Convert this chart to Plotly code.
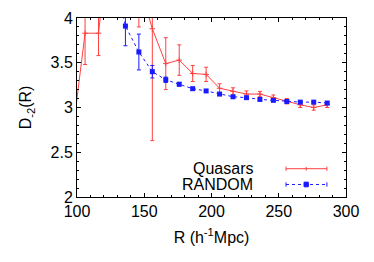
import plotly.graph_objects as go

# R (h^-1 Mpc) and D_2(R) values
r_quasars = [96, 106, 116, 126, 136, 146, 156, 166, 176, 186, 196, 206, 216, 226, 236, 246, 256, 266, 276, 286]
d2_quasars = [2.62, 3.83, 3.83, 5.2, 4.9, 4.4, 3.88, 3.49, 3.53, 3.38, 3.37, 3.215, 3.18, 3.15, 3.15, 3.11, 3.07, 3.03, 3.0, 3.03]
err_quasars = [0.4, 0.35, 0.25, 0.3, 0.3, 0.5, 1.25, 0.29, 0.17, 0.09, 0.08, 0.05, 0.04, 0.035, 0.03, 0.03, 0.03, 0.03, 0.03, 0.03]

r_random = [116, 126, 136, 146, 156, 166, 176, 186, 196, 206, 216, 226, 236, 246, 256, 266, 276, 286]
d2_random = [5.2, 4.6, 3.91, 3.62, 3.40, 3.31, 3.26, 3.21, 3.185, 3.15, 3.12, 3.11, 3.09, 3.08, 3.067, 3.06, 3.06, 3.05]
err_random = [0.4, 0.3, 0.22, 0.2, 0.07, 0.03, 0.02, 0.015, 0.015, 0.012, 0.012, 0.01, 0.01, 0.01, 0.01, 0.01, 0.01, 0.01]

legend_names = ["Quasars", "RANDOM"]

RED = "#ff4040"
BLUE = "#1a1aff"
FONT = "Liberation Sans"

fig = go.Figure()
fig.add_trace(go.Scatter(
    x=r_quasars, y=d2_quasars, mode="lines+markers", name=legend_names[0],
    line=dict(color=RED, width=1),
    marker=dict(symbol="cross-thin", size=4, line=dict(color=RED, width=1)),
    error_y=dict(type="data", array=err_quasars, color=RED, thickness=1, width=2),
    showlegend=False,
))
fig.add_trace(go.Scatter(
    x=r_random, y=d2_random, mode="lines+markers", name=legend_names[1],
    line=dict(color=BLUE, width=1, dash="dot"),
    marker=dict(symbol="square", size=5, color=BLUE),
    error_y=dict(type="data", array=err_random, color=BLUE, thickness=1, width=2),
    showlegend=False,
))

# gnuplot-style key: right-aligned text, sample line to the right
key_y = [0.158, 0.07]
for i, (name, col, dash) in enumerate([(legend_names[0], RED, "solid"), (legend_names[1], BLUE, "dot")]):
    yk = key_y[i]
    fig.add_annotation(xref="paper", yref="paper", x=0.66, y=yk, text=name,
                       showarrow=False, xanchor="right", yanchor="middle",
                       font=dict(family=FONT, size=16, color="black"))
    fig.add_shape(type="line", xref="paper", yref="paper", x0=0.777, x1=0.929, y0=yk, y1=yk,
                  line=dict(color=col, width=1, dash=dash))
    for xe in (0.777, 0.929):
        fig.add_shape(type="line", xref="paper", yref="paper", x0=xe, x1=xe, y0=yk - 0.012, y1=yk + 0.012,
                      line=dict(color=col, width=1))
    if i == 0:
        fig.add_shape(type="line", xref="paper", yref="paper", x0=0.852, x1=0.852, y0=yk - 0.01, y1=yk + 0.01,
                      line=dict(color=col, width=1))
    else:
        fig.add_shape(type="rect", xref="paper", yref="paper", x0=0.844, x1=0.86, y0=yk - 0.013, y1=yk + 0.013,
                      line=dict(color=col, width=1), fillcolor=col)

axis_common = dict(
    showgrid=False, zeroline=False, showline=True, linecolor="black", linewidth=1, mirror="ticks",
    ticks="inside", ticklen=4, tickcolor="black", tickwidth=1, automargin=False,
    tickfont=dict(family=FONT, size=16, color="black"),
)
fig.update_xaxes(range=[100, 300], dtick=50, tick0=100,
                 minor=dict(dtick=10, ticks="inside", ticklen=2, tickcolor="black", showgrid=False),
                 title=dict(text="R (h<sup>-1</sup>Mpc)", font=dict(family=FONT, size=16, color="black"), standoff=12),
                 **axis_common)
fig.update_yaxes(range=[2, 4], dtick=0.5, tick0=2,
                 minor=dict(dtick=0.1, ticks="inside", ticklen=2, tickcolor="black", showgrid=False),
                 title=dict(text="D<sub>-2</sub>(R)", font=dict(family=FONT, size=16, color="black"), standoff=14),
                 **axis_common)

# page body adds an 8px offset, so margins are shifted to compensate
fig.update_layout(
    width=374, height=262,
    margin=dict(l=69, r=36, t=10, b=73),
    plot_bgcolor="white", paper_bgcolor="white",
    font=dict(family=FONT, size=16, color="black"),
)
fig.write_html("out.html")
